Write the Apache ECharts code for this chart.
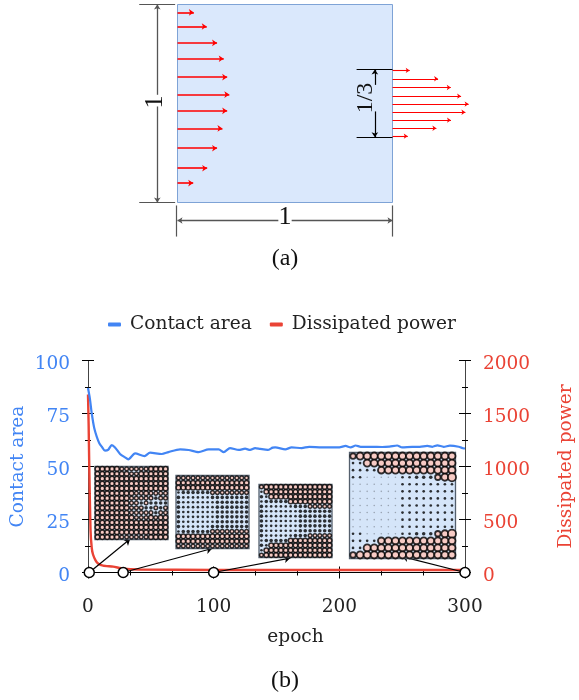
<!DOCTYPE html>
<html><head><meta charset="utf-8">
<style>html,body{margin:0;padding:0;background:#fff}#c{width:579px;height:700px}</style>
<script src="https://cdn.jsdelivr.net/npm/echarts@6/dist/echarts.min.js"></script>
</head><body><div id="c"></div>
<script>
// Panel (b) curves
const areaEpochs = [0,1.5,3,5,7,9,11,13.5,16,18.9,21.5,25.5,29.5,32,37.5,45,49.4,58.7,64,73.3,80,88,96,104,108,113,120,125,129,133,137,143,147,149,157,162,170,176,186,200,205,209,213,217,226,234,240,246,250,258,264,270,274,278,283,288,295,298.5,300];
const areaValues = [87,82,75,68,64,61,59.3,57.5,57.8,60.1,59,55.9,54.3,53.4,56.2,54.9,56.5,55.9,56.8,58.1,57.8,56.8,58.1,58.1,56.8,58.7,57.8,58.4,57.8,58.7,58.3,57.8,58.9,59,58.1,59,58.7,59.3,59,59,59.7,59,59.9,59.3,59.3,59.2,59.4,59.9,59,59.3,59.3,59.7,59.3,60,59.3,59.8,59.3,58.6,58.5];
const powerEpochs = [0,0.5,1,2,3,4,6,8,12,20,28,41,100,200,300];
const powerValues = [1680,1400,1000,400,230,170,115,85,65,55,36,28,24,24,24];
// Snapshot epochs marked on the axis, and leader line ends [epoch, contact area]
const snapEpochs = [1,28,100,300];
const leaderEnds = [[33.5,15.8],[98.8,11.3],[161,6.8],[250,7.5]];
// Panel (a) inlet / outlet velocity arrows (position along height, arrow length)
const inletY = [.960,.889,.806,.726,.633,.545,.463,.374,.274,.173,.098];
const inletLen = [.076,.136,.184,.215,.231,.241,.231,.209,.184,.138,.073];
const outletY = [.667,.625,.581,.537,.497,.456,.416,.375,.335];
const outletLen = [.080,.212,.271,.319,.354,.339,.272,.204,.071];
// Snapshots: one digit per particle (1,2,3 dots; 4..7 pink circles of growing size)
const snap0 = ["555554444445555","555555544555555","555555555555555","555555555555555","555555555555555","555555554454444","555555544444344","555555544343333","555555544433434","555555544444344","555555554445455","555555555555555","555555555555555","555555555555555","555554444445555"];
const snap28 = ["444444444444444","555555555555555","555555555555555","233333344444444","322222233333333","322222223333333","322222223333333","322222223333333","322222223333333","322222223333333","322222233333333","233333344444444","555555555555555","555555555555555","444444444444444"];
const snap100 = ["455555555555555","255555555555555","325555555555555","233333555555555","322222233344444","322222223333333","322222223333333","322222223333333","322222223333333","322222223333333","322222233344444","233333555555555","325555555555555","255555555555555","455555555555555"];
const snap300 = ["466666666666666","226666666666666","222256666666666","221111122333467","111111122222222","111111122222222","111111122222222","111111122222222","111111122222222","111111122222222","111111122222222","221111122333467","222256666666666","226666666666666","466666666666666"];
const epochTicks = [0,300,100];
const areaTicks = [0,100,25];
const powerTicks = [0,2000,500];

const BLUE='#4285f4', RED='#ea4335', SERIF='"DejaVu Serif"', TIMES='"Liberation Serif"', FS=18.6;
const zip=(a,b)=>a.map((v,i)=>[v,b[i]]);

const insets=[
 {m:snap0,  l:95,  t:466.5,s:73,  border:1.5, dot:1.6},
 {m:snap28, l:176, t:475.5,s:73,  border:1.5, dot:1.6},
 {m:snap100,l:259, t:484.5,s:73,  border:1.5, dot:1.6},
 {m:snap300,l:349.5,t:452.5,s:106,border:1.8, dot:1.1}
];
const frac={1:.2,2:.34,3:.46,4:.78,5:.95,6:1,7:1.15};
const grids=[
 {left:177.5,top:4.5,width:215,height:198,outerBoundsMode:'none',show:true,backgroundColor:'#dae8fc',borderColor:'#7ea3d6',borderWidth:1},
 {left:88,top:360.5,width:377,height:212,outerBoundsMode:'none'}
];
const numLabel={fontFamily:SERIF,fontSize:18.5,formatter:v=>String(v)};
const xAxes=[
 {gridIndex:0,type:'value',min:0,max:1,show:false},
 {gridIndex:1,type:'value',min:epochTicks[0],max:epochTicks[1],interval:epochTicks[2],position:'bottom',
  axisLine:{onZero:false,lineStyle:{color:'#000',width:1}},axisTick:{show:true,length:6,lineStyle:{color:'#000'}},
  minorTick:{show:true,splitNumber:3,length:3,lineStyle:{color:'#000'}},splitLine:{show:false},
  axisLabel:Object.assign({margin:25,color:'#222',hideOverlap:false},numLabel),
  name:'epoch',nameLocation:'middle',nameGap:55,nameTextStyle:{fontFamily:SERIF,fontSize:FS,color:'#222',padding:[0,0,0,38]}},
 {gridIndex:1,type:'value',min:epochTicks[0],max:epochTicks[1],interval:epochTicks[2],position:'bottom',
  axisLine:{onZero:false,lineStyle:{color:'#000',width:1}},axisTick:{show:true,inside:true,length:6,lineStyle:{color:'#000'}},
  minorTick:{show:true,splitNumber:3,length:3,lineStyle:{color:'#000'}},splitLine:{show:false},axisLabel:{show:false}}
];
function yPair(grid,pos,t,color,name,gap){
 const base={gridIndex:grid,type:'value',min:t[0],max:t[1],interval:t[2],position:pos,
  axisLine:{show:true,onZero:false,lineStyle:{color:'#444',width:1}},splitLine:{show:false},
  minorTick:{show:true,splitNumber:2,length:3,lineStyle:{color:'#000'}}};
 return [
  Object.assign({},base,{axisTick:{show:true,length:6,lineStyle:{color:'#000'}},
   axisLabel:Object.assign({margin:18,color,verticalAlign:'top',lineHeight:8},numLabel),
   name,nameLocation:'middle',nameGap:gap,nameMoveOverlap:false,nameTextStyle:{fontFamily:SERIF,fontSize:FS,color}}),
  Object.assign({},base,{axisTick:{show:true,inside:true,length:6,lineStyle:{color:'#000'}},axisLabel:{show:false}})
 ];
}
const yAxes=[
 {gridIndex:0,type:'value',min:0,max:1,show:false},
 ...yPair(1,'left',areaTicks,BLUE,'Contact area',60),
 ...yPair(1,'right',powerTicks,RED,'Dissipated power',92)
];
const series=[];
const arrow=(pts,color,width,size)=>({type:'lines',coordinateSystem:'cartesian2d',xAxisIndex:0,yAxisIndex:0,clip:false,silent:true,z:6,
 symbol:['none','arrow'],symbolSize:size,lineStyle:{color,width,opacity:1,curveness:0},data:pts.map(c=>({coords:c}))});
series.push(arrow(zip(inletY,inletLen).map(([y,l])=>[[0,y],[l,y]]),'#ff0000',1.6,5));
series.push(arrow(zip(outletY,outletLen).map(([y,l])=>[[1,y],[1+l,y]]),'#ff0000',1.1,4));
// Dimension lines of panel (a)
const dim=(pts,color,width)=>({type:'lines',coordinateSystem:'cartesian2d',xAxisIndex:0,yAxisIndex:0,clip:false,silent:true,z:5,
 symbol:['none','none'],lineStyle:{color,width,opacity:1,curveness:0},data:pts.map(c=>({coords:c}))});
series.push(arrow([[[-.094,.544],[-.094,1]],[[-.094,.485],[-.094,0]],[[.469,-.091],[0,-.091]],[[.531,-.091],[1,-.091]]],'#555',1.3,5));
series.push(arrow([[[.918,.594],[.918,.672]],[[.918,.46],[.918,.33]]],'#000',1.2,5));
series.push(dim([[[-.178,1],[-.011,1]],[[-.178,0],[-.011,0]],[[-.006,-.015],[-.006,-.172]],[[1,-.015],[1,-.172]]],'#555',1.2));
series.push(dim([[[.833,.672],[1,.672]],[[.833,.33],[1,.33]]],'#000',1.2));
// Curves
series.push({name:'Dissipated power',type:'line',xAxisIndex:1,yAxisIndex:3,data:zip(powerEpochs,powerValues),showSymbol:false,symbol:'none',smooth:.2,z:7,
 color:RED,lineStyle:{color:RED,width:2.4}});
series.push({name:'Contact area',type:'line',xAxisIndex:1,yAxisIndex:1,data:zip(areaEpochs,areaValues),showSymbol:false,symbol:'none',smooth:.25,z:8,
 color:BLUE,lineStyle:{color:BLUE,width:2.2}});
// Leader lines and snapshot markers
series.push({type:'lines',coordinateSystem:'cartesian2d',xAxisIndex:1,yAxisIndex:1,clip:false,silent:true,z:9,
 symbol:['none','arrow'],symbolSize:6,lineStyle:{color:'#000',width:1.2,opacity:1,curveness:0},
 data:snapEpochs.map((e,i)=>({coords:[[e,0],leaderEnds[i]]}))});
series.push({type:'scatter',xAxisIndex:1,yAxisIndex:1,clip:false,silent:true,z:12,symbolSize:10,
 itemStyle:{color:'#fff',borderColor:'#000',borderWidth:1.5,opacity:1},data:snapEpochs.map(e=>[e,0])});
// Snapshot insets
insets.forEach(ins=>{
 const g=grids.length, xi=xAxes.length, yi=yAxes.length, sp=ins.s/15;
 grids.push({left:ins.l,top:ins.t,width:ins.s,height:ins.s,outerBoundsMode:'none',show:true,backgroundColor:'#d5e5f9',borderColor:'#55606e',borderWidth:1.3,z:10});
 xAxes.push({gridIndex:g,type:'value',min:-.5,max:14.5,show:false});
 yAxes.push({gridIndex:g,type:'value',min:-.5,max:14.5,inverse:true,show:false});
 const data=[];
 ins.m.forEach((row,r)=>[...row].forEach((d,c)=>{
  const n=+d;
  data.push({value:[c,r],symbolSize:(n>=4?frac[n]:frac[n]*ins.dot)*sp,itemStyle:n>=4
   ?{color:'#ffc4b8',borderColor:'#000',borderWidth:ins.border}
   :{color:n===1?'#8a94a0':'#000',borderWidth:0}});
 }));
 series.push({type:'scatter',xAxisIndex:xi,yAxisIndex:yi,silent:true,z:10,clip:false,data});
});
const txt=(text,x,y,size,rot)=>({type:'text',x,y,rotation:rot||0,originX:0,originY:0,
 style:{text,fontFamily:TIMES,fontSize:size,fill:'#111',align:'center',verticalAlign:'middle'}});
const chart=echarts.init(document.getElementById('c'),null,{renderer:'canvas'});
chart.setOption({
 animation:false,backgroundColor:'#fff',
 legend:{data:['Contact area','Dissipated power'],left:103,top:310,icon:'roundRect',itemWidth:13,itemHeight:4,itemGap:18,
  textStyle:{fontFamily:SERIF,fontSize:FS,color:'#222',padding:[0,0,0,4]}},
 grid:grids,xAxis:xAxes,yAxis:yAxes,series,
 graphic:[txt('1',155,102,26,Math.PI/2),txt('1',285,217,26),txt('1/3',366,98,24,Math.PI/2),txt('(a)',285,259,24),txt('(b)',285,681,24)]
});
</script></body></html>
